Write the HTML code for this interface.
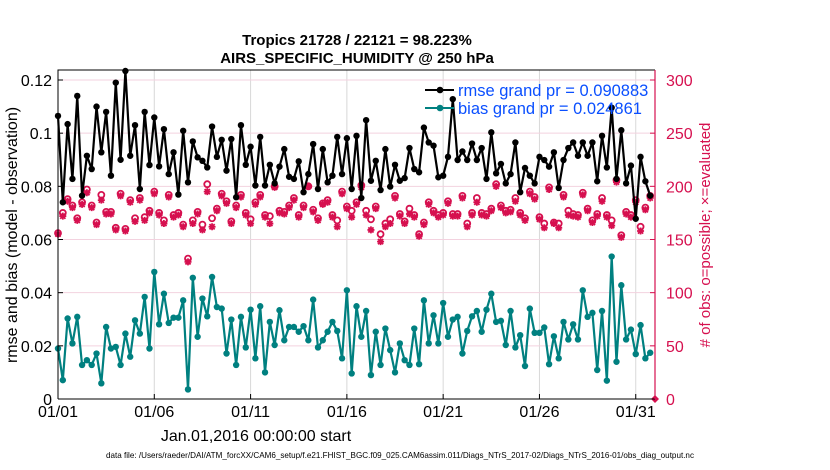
<!DOCTYPE html>
<html><head><meta charset="utf-8"><style>
html,body{margin:0;padding:0;background:#fff;width:830px;height:470px;overflow:hidden}
svg{display:block;font-family:"Liberation Sans",sans-serif}
</style></head><body>
<svg id="chart" width="830" height="470" viewBox="0 0 830 470">
<text x="357" y="45" text-anchor="middle" font-size="15" font-weight="bold">Tropics 21728 / 22121 = 98.223%</text>
<text x="357" y="63" text-anchor="middle" font-size="15" font-weight="bold">AIRS_SPECIFIC_HUMIDITY @ 250 hPa</text>
<g id="grid"></g>
<g id="marks"></g>
<g id="axes"></g>
<text transform="translate(17,235) rotate(-90)" text-anchor="middle" font-size="16">rmse and bias (model - observation)</text>
<text transform="translate(710,235) rotate(-90)" text-anchor="middle" font-size="15" fill="#d6104f"># of obs: o=possible; ×=evaluated</text>
<text x="256" y="441" text-anchor="middle" font-size="16">Jan.01,2016 00:00:00 start</text>
<text x="400" y="458" text-anchor="middle" font-size="8.1">data file: /Users/raeder/DAI/ATM_forcXX/CAM6_setup/f.e21.FHIST_BGC.f09_025.CAM6assim.011/Diags_NTrS_2017-02/Diags_NTrS_2016-01/obs_diag_output.nc</text>
<g>
<line x1="425" y1="90" x2="454" y2="90" stroke="#000" stroke-width="2"/>
<circle cx="440" cy="90" r="3.3" fill="#000"/>
<text x="458" y="96" font-size="16.5" fill="#0a4fff">rmse grand pr = 0.090883</text>
<line x1="425" y1="108" x2="454" y2="108" stroke="#008080" stroke-width="2"/>
<circle cx="440" cy="108" r="3.3" fill="#008080"/>
<text x="458" y="114" font-size="16.5" fill="#0a4fff">bias grand pr = 0.024861</text>
</g>
</svg>
<script>
const rmse=[0.1065,0.074,0.1034,0.0828,0.114,0.0765,0.0915,0.0865,0.110,0.0928,0.108,0.084,0.119,0.090,0.1234,0.0915,0.103,0.079,0.108,0.088,
0.1059,0.0875,0.1015,0.0846,0.0928,0.0769,0.1009,0.0815,0.0969,0.0909,0.0896,0.0871,0.1025,0.0911,0.0975,0.0859,0.0978,0.0759,0.1030,0.0881,
0.0949,0.0803,0.0986,0.0803,0.0881,0.0811,0.0874,0.0940,0.0836,0.0828,0.0894,0.0778,0.0846,0.0959,0.079,0.094,0.0815,0.084,0.0986,0.0846,
0.0981,0.079,0.099,0.0756,0.1049,0.0821,0.0896,0.0786,0.094,0.0799,0.0881,0.0821,0.0831,0.0944,0.0865,0.0853,0.1021,0.0965,0.0953,0.0834,
0.084,0.0911,0.1128,0.0899,0.0931,0.0899,0.0961,0.0899,0.0944,0.0828,0.1003,0.0849,0.0884,0.0811,0.0846,0.0965,0.0778,0.0869,0.084,0.0811,
0.0911,0.0899,0.0874,0.0928,0.0794,0.0899,0.0944,0.0965,0.0915,0.0965,0.0915,0.0965,0.0819,0.099,0.0871,0.1096,0.0828,0.1011,0.0811,0.0878,
0.0678,0.0911,0.0819,0.0765];
const bias=[0.019,0.0071,0.0303,0.0209,0.0309,0.0128,0.0146,0.0128,0.0171,0.0059,0.0271,0.019,0.0196,0.0128,0.0246,0.0159,0.0296,0.0246,0.0384,0.019,
0.0478,0.0281,0.0396,0.0286,0.0306,0.0306,0.0371,0.0036,0.0456,0.0234,0.0378,0.0311,0.0459,0.0346,0.0340,0.0171,0.0299,0.0128,0.0309,0.0194,
0.0336,0.0153,0.0349,0.010,0.029,0.0203,0.0334,0.0221,0.0271,0.0271,0.0253,0.0274,0.0221,0.0374,0.0194,0.0221,0.0253,0.029,0.0256,0.0153,
0.0409,0.0096,0.0349,0.0234,0.0331,0.009,0.0253,0.0128,0.0265,0.0184,0.010,0.0209,0.0146,0.0128,0.0265,0.0131,0.0371,0.0209,0.0315,0.0209,
0.0361,0.0234,0.0299,0.0309,0.0171,0.0256,0.0311,0.0331,0.0253,0.0336,0.0396,0.029,0.0294,0.0203,0.0331,0.0194,0.024,0.0124,0.034,0.0249,
0.0249,0.0269,0.0131,0.0236,0.0153,0.029,0.0224,0.0281,0.0224,0.0409,0.0309,0.0324,0.0109,0.0331,0.0069,0.0536,0.014,0.0428,0.0224,0.0261,
0.0169,0.0278,0.0153,0.0174];
const possible=[156,175,188,182,170,185,197,182,166,192,176,176,161,193,160,187,170,189,171,177,
195,175,168,192,173,175,164,132,168,176,164,202,170,179,193,186,167,182,192,175,
169,185,192,173,172,200,177,176,182,189,173,182,200,178,170,184,187,173,168,195,
181,177,185,201,177,169,181,155,165,169,191,174,167,179,173,155,166,185,177,173,
175,186,174,174,191,165,175,189,175,174,179,202,182,177,178,189,175,170,195,190,
171,165,199,166,165,192,177,174,173,194,179,168,174,189,173,168,206,154,176,173,
187,162,180,191,0];
const evaluated=[155,172,186,180,168,183,194,180,164,187,174,174,159,191,158,185,167,187,168,175,
193,173,165,190,171,173,162,129,165,174,159,195,162,177,191,184,165,180,190,173,
165,183,190,171,165,199,175,174,180,187,171,180,200,176,168,183,185,171,162,193,
179,171,183,199,173,159,179,148,162,165,189,172,165,174,171,153,164,183,175,171,
173,184,172,172,189,162,173,185,173,172,177,200,180,175,176,186,173,168,193,188,
169,161,197,165,161,190,173,172,171,192,177,166,172,186,171,163,204,152,174,171,
185,158,178,189,0];
const dateLabels=["01/01","01/06","01/11","01/16","01/21","01/26","01/31"];
const dateDays=[0,5,10,15,20,25,30];
const leftTicks=[0,0.02,0.04,0.06,0.08,0.1,0.12];
const leftTickLabels=["0","0.02","0.04","0.06","0.08","0.1","0.12"];
const rightTicks=[0,50,100,150,200,250,300];

const NS="http://www.w3.org/2000/svg";
const X0=58,X1=655,Y0=399,YT=70;
const xs=d=>X0+(d/31)*(X1-X0);
const yl=v=>Y0-v*(319/0.12);
const yr=v=>yl(v/2500);
const PINK="#d6104f",TEAL="#008080";
function mk(tag,attrs,parent){const e=document.createElementNS(NS,tag);for(const k in attrs)e.setAttribute(k,attrs[k]);parent.appendChild(e);return e;}
const grid=document.getElementById('grid'),marks=document.getElementById('marks'),axes=document.getElementById('axes');

dateDays.forEach((d,i)=>{
  const g=mk('line',{x1:xs(d),x2:xs(d),y1:YT,y2:Y0,stroke:'#d8d8d8','stroke-width':1},grid);
  
  
  const t=mk('line',{x1:xs(d),x2:xs(d),y1:Y0,y2:Y0-5,stroke:'#000','stroke-width':1},axes);
  
  
  const tl=mk('text',{x:xs(d),y:417,'text-anchor':'middle','font-size':16},axes);
  tl.textContent=dateLabels[i];
  
  
});
rightTicks.forEach(v=>{
  const g=mk('line',{x1:X0,x2:X1,y1:yr(v),y2:yr(v),stroke:'#f3d2df','stroke-width':1},grid);
  
  
  const t=mk('line',{x1:X1,x2:X1-5,y1:yr(v),y2:yr(v),stroke:PINK,'stroke-width':1},axes);
  
  
  const tl=mk('text',{x:666,y:yr(v)+6,'font-size':16,fill:PINK},axes);
  tl.textContent=String(v);
  
  
});
leftTicks.forEach((v,i)=>{
  const t=mk('line',{x1:X0,x2:X0+5,y1:yl(v),y2:yl(v),stroke:'#000','stroke-width':1},axes);
  
  
  const tl=mk('text',{x:52,y:yl(v)+6,'text-anchor':'end','font-size':16},axes);
  tl.textContent=leftTickLabels[i];
  
  
});
const box=mk('path',{d:`M${X0},${Y0}V${YT}H${X1}M${X0},${Y0}H${X1}`,fill:'none',stroke:'#000','stroke-width':1},axes);


const ra=mk('line',{x1:X1,x2:X1,y1:YT,y2:Y0,stroke:PINK,'stroke-width':1.2},axes);



possible.forEach((v,i)=>{
  const d=i*0.25,x=xs(d);
  if(v===0){
    const dm=mk('path',{d:`M${x},${yr(0)-4}L${x+4},${yr(0)}L${x},${yr(0)+4}L${x-4},${yr(0)}Z`,fill:PINK},marks);
    
    
    return;
  }
  const ev=evaluated[i],ye=yr(ev);
  const s=mk('path',{d:`M${x-3.5},${ye}H${x+3.5}M${x},${ye-3.5}V${ye+3.5}M${x-2.6},${ye-2.6}L${x+2.6},${ye+2.6}M${x-2.6},${ye+2.6}L${x+2.6},${ye-2.6}`,stroke:PINK,'stroke-width':1.8},marks);
  
  
  const c=mk('circle',{cx:x,cy:yr(v),r:3,fill:'none',stroke:PINK,'stroke-width':1.8},marks);
  
  
});
function series(arr,color,name){
  const pts=arr.map((v,i)=>xs(i*0.25).toFixed(2)+','+yl(v).toFixed(2)).join(' ');
  const pl=mk('polyline',{points:pts,fill:'none',stroke:color,'stroke-width':2.2,'stroke-linejoin':'round'},marks);
  
  
  arr.forEach((v,i)=>{
    const c=mk('circle',{cx:xs(i*0.25),cy:yl(v),r:3.2,fill:color},marks);
    
    
  });
}
series(rmse,'#000','rmse');
series(bias,TEAL,'bias');
</script>
</body></html>
